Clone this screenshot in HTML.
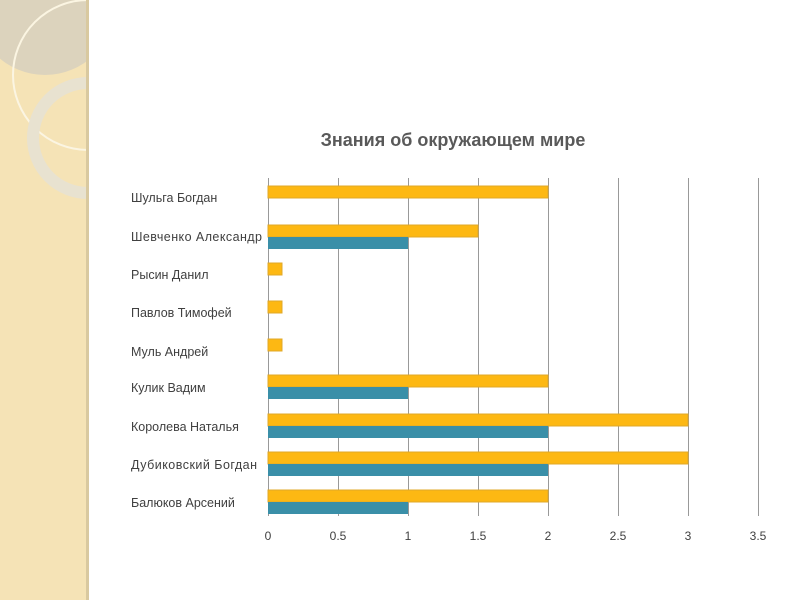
<!DOCTYPE html>
<html><head><meta charset="utf-8"><style>
body{margin:0;width:800px;height:600px;overflow:hidden;background:#fff;font-family:"Liberation Sans",sans-serif}
</style></head><body>
<svg width="800" height="600" xmlns="http://www.w3.org/2000/svg" font-family="Liberation Sans, sans-serif">
<defs><clipPath id="c"><rect x="0" y="0" width="88" height="600"/></clipPath></defs>
<rect x="0" y="0" width="88" height="600" fill="#f5e3b6"/>
<g clip-path="url(#c)">
<circle cx="45" cy="5" r="70" fill="#dcd3bd"/>
<circle cx="88" cy="75" r="75" fill="none" stroke="#fbf5e2" stroke-width="2"/>
<circle cx="88" cy="138" r="55" fill="none" stroke="#e8e2d0" stroke-width="12"/>
</g>
<rect x="86" y="0" width="3" height="600" fill="#d9c9a0"/>
<text x="453" y="146" text-anchor="middle" font-size="18" font-weight="bold" fill="#595959">Знания об окружающем мире</text>
<g stroke="#999" stroke-width="1">
<line x1="268.5" y1="178" x2="268.5" y2="516"/>
<line x1="338.5" y1="178" x2="338.5" y2="516"/>
<line x1="408.5" y1="178" x2="408.5" y2="516"/>
<line x1="478.5" y1="178" x2="478.5" y2="516"/>
<line x1="548.5" y1="178" x2="548.5" y2="516"/>
<line x1="618.5" y1="178" x2="618.5" y2="516"/>
<line x1="688.5" y1="178" x2="688.5" y2="516"/>
<line x1="758.5" y1="178" x2="758.5" y2="516"/>
</g>
<g fill="#fdb813" stroke="#e0a82a" stroke-width="1">
<rect x="268" y="186" width="280" height="12"/>
<rect x="268" y="225" width="210" height="12"/>
<rect x="268" y="263" width="14" height="12"/>
<rect x="268" y="301" width="14" height="12"/>
<rect x="268" y="339" width="14" height="12"/>
<rect x="268" y="375" width="280" height="12"/>
<rect x="268" y="414" width="420" height="12"/>
<rect x="268" y="452" width="420" height="12"/>
<rect x="268" y="490" width="280" height="12"/>
</g>
<g fill="#3a8fa8">
<rect x="268" y="237" width="140" height="12"/>
<rect x="268" y="387" width="140" height="12"/>
<rect x="268" y="426" width="280" height="12"/>
<rect x="268" y="464" width="280" height="12"/>
<rect x="268" y="502" width="140" height="12"/>
</g>
<g font-size="12.5" fill="#404040" textLength="">
<text x="131" y="202">Шульга Богдан</text>
<text x="131" y="241" textLength="131">Шевченко Александр</text>
<text x="131" y="279">Рысин Данил</text>
<text x="131" y="317">Павлов Тимофей</text>
<text x="131" y="356">Муль Андрей</text>
<text x="131" y="392">Кулик Вадим</text>
<text x="131" y="431">Королева Наталья</text>
<text x="131" y="469" textLength="126">Дубиковский Богдан</text>
<text x="131" y="507">Балюков Арсений</text>
</g>
<g font-size="12" fill="#404040" text-anchor="middle">
<text x="268" y="540">0</text><text x="338" y="540">0.5</text><text x="408" y="540">1</text>
<text x="478" y="540">1.5</text><text x="548" y="540">2</text><text x="618" y="540">2.5</text>
<text x="688" y="540">3</text><text x="758" y="540">3.5</text>
</g>
</svg>
</body></html>
